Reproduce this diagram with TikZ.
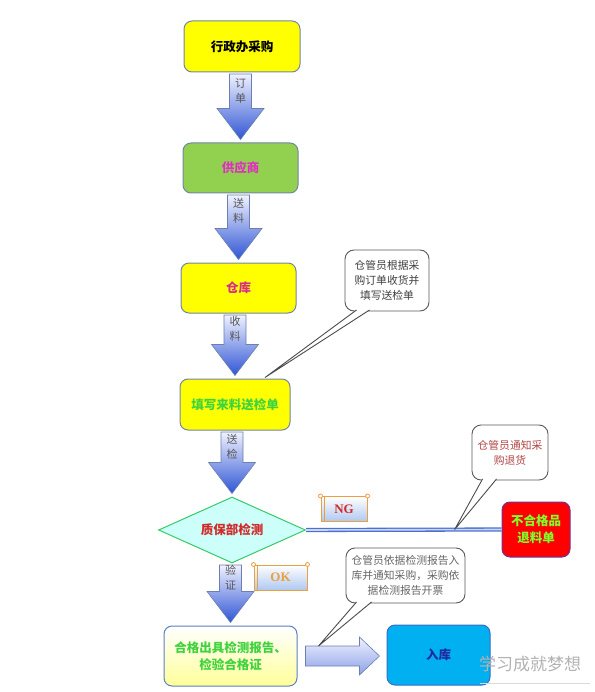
\documentclass[tikz,border=0pt]{standalone}
\usepackage{fontspec}
\setmainfont{Noto Sans CJK SC}
\newfontfamily\serifb{Liberation Serif}
\usetikzlibrary{shapes.geometric,calc}
\definecolor{boxborder}{HTML}{7384A6}
\definecolor{byellow}{HTML}{FFFF00}
\definecolor{bgreen}{HTML}{92D050}
\definecolor{tmagenta}{HTML}{E030C0}
\definecolor{tpink}{HTML}{D62F8A}
\definecolor{tgreen}{HTML}{3FD33F}
\definecolor{tlgreen}{HTML}{7CFF2A}
\definecolor{tred}{HTML}{D02A2A}
\definecolor{arrowborder}{HTML}{6C7FB0}
\definecolor{arrowtop}{HTML}{F0F2FF}
\definecolor{arrowbot}{HTML}{2F55D4}
\definecolor{diafill}{HTML}{CCFFFA}
\definecolor{diaborder}{HTML}{33CC66}
\definecolor{rejborder}{HTML}{7030A0}
\definecolor{rukufill}{HTML}{00B0F0}
\definecolor{rukuborder}{HTML}{3A6BC8}
\definecolor{rukutext}{HTML}{1F2A9F}
\definecolor{finborder}{HTML}{5B7FC8}
\definecolor{finbot}{HTML}{FFFF99}
\definecolor{lineblue}{HTML}{4F6FD0}
\definecolor{linein}{HTML}{C8D8F8}
\definecolor{scrollor}{HTML}{E8A040}
\definecolor{scrollbot}{HTML}{AFC8F0}
\definecolor{c2text}{HTML}{B04545}
\newcommand\vblock[3]{%
  \path[blockarrow] let \p1=(#1.south), \p2=(#2.north) in
    (\x2-11pt,\y1-1.5pt) -- (\x2+11pt,\y1-1.5pt) -- (\x2+11pt,\y2+34pt)
    -- (\x2+23.5pt,\y2+34pt) -- (\x2,\y2+3pt) -- (\x2-23.5pt,\y2+34pt)
    -- (\x2-11pt,\y2+34pt) -- cycle;
  \path let \p1=(#1.south), \p2=(#2.north) in
    node[arrowlabel] at (\x2,{0.5*\y1+0.5*\y2+17pt}) {#3};
}
\newcommand\calltail[3]{%
  \fill[white] (#1) -- (#3) -- (#2) -- cycle;
  \draw[tailline] (#1) -- (#3) -- (#2);
}
\begin{document}
\begin{tikzpicture}[x=1pt,y=-1pt,
  box/.style={draw=boxborder, line width=1pt, rounded corners=8pt, inner sep=0pt,
    align=center, font=\fontsize{12.5}{17}\selectfont\bfseries},
  blockarrow/.style={draw=arrowborder, line width=0.6pt, top color=arrowtop, bottom color=arrowbot},
  harrow/.style={draw=arrowborder, line width=0.6pt, top color=arrowtop, bottom color=arrowbot!55!white},
  arrowlabel/.style={font=\fontsize{11}{15}\selectfont, text=black!65, align=center},
  callout/.style={draw=black!65, line width=0.9pt, fill=white, rounded corners=9pt,
    align=center, inner sep=0pt, font=\fontsize{10.8}{15}\selectfont},
  tailline/.style={draw=black!70, line width=0.9pt},
  scroll/.style={draw=scrollor, line width=1pt, top color=white, bottom color=scrollbot,
    inner sep=0pt, font=\fontsize{13}{15}\selectfont\serifb\bfseries},
]
\useasboundingbox (0,0) rectangle (594,692);

% main boxes
\node[box, fill=byellow, minimum width=116pt, minimum height=51pt] (b1) at (242,46.5) {行政办采购};
\node[box, fill=bgreen, text=tmagenta, minimum width=115pt, minimum height=50pt] (b2) at (240.5,168) {供应商};
\node[box, fill=byellow, text=tpink, minimum width=115pt, minimum height=50pt] (b3) at (238.5,288) {仓库};
\node[box, fill=byellow, text=tgreen, minimum width=110pt, minimum height=51pt] (b4) at (235,404.5) {填写来料送检单};
\node[diamond, draw=diaborder, line width=1pt, fill=diafill, minimum width=147pt, minimum height=66pt,
  aspect=2.2, inner sep=0pt, text=tred, font=\fontsize{12.5}{15}\selectfont\bfseries] (qc) at (232,530) {质保部检测};
\node[box, fill=red, draw=rejborder, text=tlgreen, minimum width=68pt, minimum height=55pt] (rej) at (536,529.5) {不合格品\\退料单};
\node[box, draw=finborder, top color=white, bottom color=finbot, text=tgreen, minimum width=133pt, minimum height=60pt] (fin) at (230.5,656) {合格出具检测报告、\\检验合格证};
\node[box, fill=rukufill, draw=rukuborder, text=rukutext, minimum width=103pt, minimum height=60pt] (ruku) at (438.5,655) {入库};

% block arrows
\vblock{b1}{b2}{订\\单}
\vblock{b2}{b3}{送\\料}
\vblock{b3}{b4}{收\\料}
\vblock{b4}{qc}{送\\检}
\vblock{qc}{fin}{验\\证}

\path[harrow] let \p1=(fin.east), \p2=(ruku.west) in
  (\x1+8pt,\y1+10pt) -- (\x2-27pt,\y1+10pt) -- (\x2-27pt,\y1+19pt) -- (\x2-7pt,\y1)
  -- (\x2-27pt,\y1-19pt) -- (\x2-27pt,\y1-10pt) -- (\x1+8pt,\y1-10pt) -- cycle;

% NG double line
\draw[lineblue, line width=1.3pt, double=linein, double distance=1.6pt] (qc.east) -- (rej.west);
\coordinate (ngtip) at ($(qc.east)!0.76!(rej.west)$);

% scrolls
\node[scroll, text=tred, minimum width=46pt, minimum height=25pt] (ng) at (344,509) {NG};
\draw[scrollor, line width=0.8pt] ($(ng.north west)+(4,0)$) -- ($(ng.south west)+(4,0)$);
\draw[scrollor, line width=0.8pt, fill=white] (ng.north east) circle (2pt) (ng.north west) circle (2pt);
\node[scroll, text=scrollor, minimum width=53pt, minimum height=25pt] (ok) at (280.5,577.5) {OK};
\draw[scrollor, line width=0.8pt] ($(ok.north west)+(4,0)$) -- ($(ok.south west)+(4,0)$);
\draw[scrollor, line width=0.8pt, fill=white] (ok.north east) circle (2pt) (ok.north west) circle (2pt);

% callouts
\node[callout, text=black!75, minimum width=84pt, minimum height=61pt] (c1) at (387,280.5) {仓管员根据采\\购订单收货并\\填写送检单};
\coordinate (c1a) at ($(c1.south west)+(12,-1.5)$);
\coordinate (c1b) at ($(c1.south west)+(25,-1.5)$);
\coordinate (c1t) at ($(b4.north)+(30,-1)$);
\calltail{c1a}{c1b}{c1t}

\node[callout, text=c2text, minimum width=76pt, minimum height=55pt] (c2) at (510,452.5) {仓管员通知采\\购退货};
\coordinate (c2a) at ($(c2.south west)+(11,-1.5)$);
\coordinate (c2b) at ($(c2.south west)+(25,-1.5)$);
\calltail{c2a}{c2b}{ngtip}

\node[callout, text=black!60, minimum width=119pt, minimum height=55pt] (c3) at (405.5,575.5) {仓管员依据检测报告入\\库并通知采购，采购依\\据检测报告开票};
\coordinate (c3a) at ($(c3.south west)+(11,-1.5)$);
\coordinate (c3b) at ($(c3.south west)+(26,-1.5)$);
\coordinate (c3t) at ($(fin.east)+(21,-10)$);
\calltail{c3a}{c3b}{c3t}

% watermark
\node[text=black!30, font=\fontsize{17}{20}\selectfont] (wm) at (530,664) {学习成就梦想};
\draw[black!15, line width=0.6pt] (480,683) -- (590,683);
\end{tikzpicture}
\end{document}
